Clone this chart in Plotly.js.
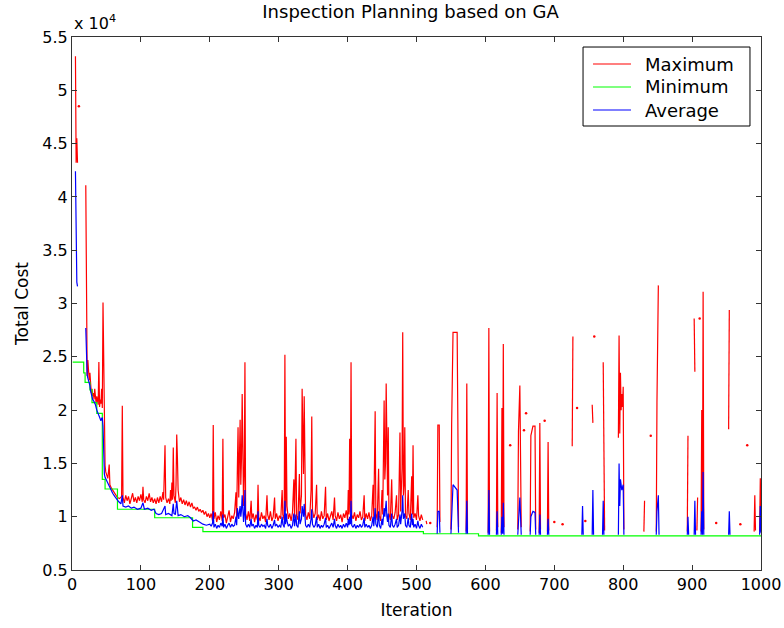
<!DOCTYPE html>
<html>
<head>
<meta charset="utf-8">
<script src="https://cdn.plot.ly/plotly-3.0.1.min.js"></script>
<style>html,body{margin:0;padding:0;background:#fff;}#chart{width:784px;height:628px;}</style>
</head>
<body>
<div id="chart"></div>
<script>
// ---- Data ----
// Maximum cost per iteration (null = not drawn)
const maxIter = [5,6,7,8,null,
20,21,22,23,24,25,26,27,28,29,30,31,32,33,34,35,36,37,38,39,40,41,42,43,44,45,46,47,48,49,50,52,54,55,57,60,63,66,69,72,73,
74,76,78,80,82,84,86,88,90,92,94,96,98,100,102,103,104,106,108,110,112,114,116,118,120,122,124,126,128,130,132,133,135,136,138,140,142,143,144,145,146,147,148,150,151,152,153,154,156,158,160,162,164,166,168,170,172,174,176,178,180,182,184,186,188,190,192,194,196,198,
200,202,204,205,206,208,210,212,214,216,218,219,220,222,224,226,228,230,232,234,236,238,239,240,241,242,243,244,245,246,247,248,249,250,251,252,254,256,258,260,261,263,265,267,269,270,271,273,275,277,279,281,283,284,286,288,290,292,294,295,297,299,
301,303,305,306,308,309,310,311,312,314,316,318,320,322,323,325,326,328,330,331,333,334,335,336,337,338,339,341,343,345,347,348,349,351,353,355,356,358,360,362,364,366,368,369,371,373,375,377,379,381,382,384,386,388,390,392,394,396,398,
400,401,402,403,404,405,406,408,410,412,414,416,418,420,422,424,425,427,429,431,433,435,437,438,440,441,443,445,446,448,450,451,453,454,455,456,457,458,459,460,462,464,465,467,469,471,472,474,476,477,479,480,481,482,483,484,486,488,489,491,493,494,495,496,498,
500,502,503,505,507,509,null,
514,515,null,530,531,533,534,null,550,551,553,559,560,561,null,572,573,574,null,604,605,606,null,616,617,618,null,623,624,625,626,627,null,
647,648,650,652,null,665,666,669,672,673,null,678,679,680,null,690,691,692,null,726,727,null,755,756,null,771,772,773,null,
793,794,795,796,797,798,799,800,801,null,830,831,null,848,849,851,null,893,894,null,903,904,null,907,908,null,913,914,915,916,917,null,953,954,null,
990,991,992,null,998,999,1000];
const maxVal = [53200,43200,45500,43200,null,
41100,24700,23200,24700,23000,22800,23500,22300,21600,22000,21300,21600,21000,22000,21500,20600,21300,20700,20500,24500,20300,21000,20600,22000,20200,30100,22400,15500,14800,14200,14000,13600,14900,13000,12700,12400,12000,11800,11700,11900,20400,
11800,11300,12000,11500,11900,11200,11700,12200,11400,11800,11300,11900,11500,12100,11400,12800,11600,11300,11900,11500,12200,11400,11800,11300,11700,11200,11800,11300,11900,11400,12300,11600,16700,11800,11300,11700,11200,12500,11500,13200,11600,16500,12000,11300,13000,17700,15500,12500,11400,11800,11200,11600,11100,11500,11000,11400,10900,11300,10800,10900,10600,10900,10500,10700,10400,10600,10200,10500,10000,10300,
9900,10300,9600,18600,9800,10400,9500,10100,9700,10500,9600,17300,9900,10200,9400,10000,10600,9500,10100,9800,10400,12300,9900,14500,18400,11800,15800,19100,13000,15500,21500,17200,11000,13800,24500,10300,9700,10500,9600,11500,9800,10300,9500,10200,9700,13000,10000,9600,10400,9800,10100,9500,12000,10200,9700,10500,9600,10000,11800,9800,10300,9600,
10100,9800,12500,10200,9700,25200,10500,17500,11000,9800,10300,9600,10400,13500,9900,17300,10100,9700,14000,10300,12000,22000,15500,14000,21300,12500,10200,9700,10400,9800,12500,19400,10600,9900,10300,13000,9700,10200,9600,10500,9800,10100,12800,9700,10300,9600,10000,10500,9700,11800,10100,9600,10400,9800,10200,9500,10300,9900,10600,
9700,12500,10200,17300,10400,24500,10200,9800,10400,9600,10200,9900,10500,9700,10000,12000,9600,10300,9800,10400,9600,10100,13000,9900,19900,10300,9700,14500,10100,9600,12500,10200,20900,13500,15000,22500,12500,12000,18400,10300,9700,13500,10100,9800,10400,12000,9700,10200,17900,10500,14500,27300,12000,13000,18400,10100,9800,12500,10300,9700,13800,10200,16700,9900,10300,
9700,12000,10100,9600,10200,9700,null,
9600,9300,null,9000,18600,18600,9500,null,8800,18600,27300,27300,19100,9000,null,8600,22500,8800,null,8500,27700,8600,null,8700,21600,9000,null,8500,20200,9500,26200,9000,null,
8800,18000,22300,9000,null,8600,17600,18500,18500,8800,null,8500,18800,8800,null,8600,17000,8700,null,16600,26900,null,20500,18800,null,24500,16700,8700,null,
17400,27000,17800,23500,20000,21500,20300,22200,8800,null,8600,11500,null,8600,20700,31700,null,8600,17600,null,28600,23600,null,8700,11800,null,8600,20000,8700,31100,8800,null,18200,29400,null,
8600,12000,8700,null,8600,13600,9000];
// Isolated single-iteration maximum values (drawn as dots)
const maxDotIter = [10,520,636,656,659,686,700,712,733,745,758,840,911,935,970,980];
const maxDotVal  = [48500,9400,16700,18100,19700,19000,9500,9300,20200,9600,26900,17600,28600,9400,9300,16700];

// Minimum cost (step changes)
const minIter = [1,17,19,26,29,36,44,48,66,120,175,190,510,590,1000];
const minVal  = [24500,23500,22600,21900,20700,19700,13500,12600,10700,9900,9000,8600,8400,8200,8200];

// Average cost per iteration
const avgIter = [5,6,7,8,null,
20,21,22,23,24,25,26,27,28,29,30,32,34,36,38,40,42,43,44,45,46,47,48,50,53,56,59,62,65,68,71,73,74,78,82,86,90,95,100,103,105,110,115,119,122,126,130,135,136,140,145,147,148,150,152,154,158,163,168,172,176,180,185,190,195,
200,202,204,205,206,208,210,212,214,216,218,219,220,222,224,226,228,230,232,234,236,238,239,240,241,242,243,244,245,246,247,248,249,250,251,252,254,256,258,260,261,263,265,267,269,270,271,273,275,277,279,281,283,284,286,288,290,292,294,295,297,299,
301,303,305,306,308,309,310,311,312,314,316,318,320,322,323,325,326,328,330,331,333,334,335,336,337,338,339,341,343,345,347,348,349,351,353,355,356,358,360,362,364,366,368,369,371,373,375,377,379,381,382,384,386,388,390,392,394,396,398,
400,401,402,403,404,405,406,408,410,412,414,416,418,420,422,424,425,427,429,431,433,435,437,438,440,441,443,445,446,448,450,451,453,454,455,456,457,458,459,460,462,464,465,467,469,471,472,474,476,477,479,480,481,482,483,484,486,488,489,491,493,494,495,496,498,
500,502,503,505,507,509,null,
530,531,533,534,null,550,551,553,559,560,561,null,572,573,574,null,604,605,606,null,616,617,618,null,623,624,625,626,627,null,
647,648,650,652,null,665,666,669,672,673,null,678,679,680,null,690,691,692,null,740,741,742,null,755,756,757,null,770,771,772,null,
793,794,795,796,798,800,801,null,848,849,851,852,null,893,894,895,null,903,904,905,null,913,914,915,916,917,null,953,954,955,null,998,999,1000];
const avgVal = [42400,33000,32000,31600,null,
27700,23600,23300,23000,22800,22600,22300,21800,21500,21300,21000,20800,20500,20000,19600,19300,19000,19200,19300,18500,14500,14000,13700,13400,13000,12500,12200,11900,11600,11400,11200,12000,11000,10900,11000,10800,10900,10700,10800,11300,10700,10800,10600,10700,10300,10200,10300,11000,10200,10300,10100,11200,10300,10200,11500,10100,10200,10000,10100,9900,9600,9700,9500,9300,9200,
9300,9100,9400,10500,9000,9300,8900,9200,9000,9400,9100,10200,9000,9300,8900,9200,9400,9000,9300,9100,9200,10000,9200,10800,10300,9800,10500,11000,10000,10600,12000,10500,9500,10200,12500,9300,9000,9300,9000,9800,9100,9300,8900,9200,9000,10500,9200,9000,9300,9100,9200,8900,9800,9200,9000,9300,8900,9200,9700,9100,9300,9000,
9200,9000,10000,9300,9000,11500,9300,10300,9600,9100,9300,8900,9200,10300,9100,10200,9200,9000,10500,9300,9800,11000,10200,10000,11200,9800,9200,9000,9300,9000,9800,10700,9300,9000,9200,10000,9000,9300,8900,9200,9000,9300,9900,9000,9200,8900,9200,9400,9000,9800,9200,8900,9300,9000,9200,8900,9300,9000,9400,
9000,9800,9200,10000,9300,11500,9200,9000,9300,8900,9200,9000,9300,9000,9200,9900,9000,9300,9000,9200,8900,9200,10000,9100,10800,9300,9000,10500,9200,8900,9800,9200,10800,10000,10500,11500,10000,9500,10300,9200,9000,10300,9200,9000,9300,9800,9000,9200,10200,9300,10500,12000,9800,10200,10300,9200,9000,9900,9200,9000,10300,9200,9800,9000,9300,
8900,9600,9200,8900,9300,9000,null,
8400,10500,10500,8500,null,8400,10500,13000,12500,10300,8500,null,8400,11500,8400,null,8300,12500,8300,null,8300,10500,8300,null,8300,10000,8400,11300,8300,null,
8300,10000,11800,8300,null,8300,10000,10500,10400,8300,null,8300,10200,8300,null,8300,9800,8300,null,8300,11000,8300,null,8300,12500,8300,null,8300,11500,8300,null,
8300,15000,11000,13500,12500,13000,8300,null,8300,10500,12000,8300,null,8300,10000,8300,null,8300,11500,8300,null,8300,10500,8300,14200,8300,null,8300,10500,8300,null,8300,11000,8500];

// Series names and colours (legend)
const seriesNames  = ['Maximum', 'Minimum', 'Average'];
const seriesColors = ['#ff0000', '#00ff00', '#0000ff'];

// Axis ticks
const xTicks = [0,100,200,300,400,500,600,700,800,900,1000];
const yTickVals = [5000,10000,15000,20000,25000,30000,35000,40000,45000,50000,55000];
const yTickText = ['0.5','1','1.5','2','2.5','3','3.5','4','4.5','5','5.5'];

const FONT = 'DejaVu Sans, Liberation Sans, Arial, sans-serif';
const LW = 1.2;

const traces = [
  {x: maxIter, y: maxVal, name: seriesNames[0], mode: 'lines', connectgaps: false,
   line: {color: seriesColors[0], width: LW}},
  {x: minIter, y: minVal, name: seriesNames[1], mode: 'lines',
   line: {color: seriesColors[1], width: LW, shape: 'hv'}},
  {x: avgIter, y: avgVal, name: seriesNames[2], mode: 'lines', connectgaps: false,
   line: {color: seriesColors[2], width: LW}},
  {x: maxDotIter, y: maxDotVal, mode: 'markers', showlegend: false, hoverinfo: 'skip',
   marker: {color: seriesColors[0], size: 2.5}}
];

// Legend box drawn MATLAB-style (paper coordinates)
const LEG = {x0: 0.7417, x1: 0.9840, y0: 0.8330, y1: 0.9812, lx0: 0.7562, lx1: 0.8113, tx: 0.8287,
             rows: [0.9493, 0.9062, 0.8630]};
const shapes = [
  {type: 'rect', xref: 'paper', yref: 'paper', x0: LEG.x0, x1: LEG.x1, y0: LEG.y0, y1: LEG.y1,
   line: {color: '#000000', width: 1}, fillcolor: '#ffffff', layer: 'above'}
];
const annotations = [
  {text: 'x 10<sup>4</sup>', xref: 'paper', yref: 'paper', x: 0, y: 1, xanchor: 'left', yanchor: 'bottom',
   yshift: 2, showarrow: false, font: {family: FONT, size: 16, color: '#000'}}
];
seriesNames.forEach((nm, i) => {
  shapes.push({type: 'line', xref: 'paper', yref: 'paper', x0: LEG.lx0, x1: LEG.lx1, y0: LEG.rows[i], y1: LEG.rows[i],
               line: {color: seriesColors[i], width: LW}, layer: 'above'});
  annotations.push({text: nm, xref: 'paper', yref: 'paper', x: LEG.tx, y: LEG.rows[i], xanchor: 'left', yanchor: 'middle',
                    showarrow: false, font: {family: FONT, size: 18, color: '#000'}});
});

const axisCommon = {
  showgrid: false, zeroline: false, showline: true, linecolor: '#333333', linewidth: 1,
  mirror: 'ticks', ticks: 'inside', ticklen: 5, tickcolor: '#333333', tickwidth: 1,
  tickfont: {family: FONT, size: 16, color: '#000'}
};

const layout = {
  width: 784, height: 628,
  margin: {l: 72, r: 23, t: 37, b: 58},
  paper_bgcolor: '#ffffff', plot_bgcolor: '#ffffff',
  font: {family: FONT, color: '#000'},
  title: {text: 'Inspection Planning based on GA', font: {family: FONT, size: 18, color: '#000'},
          xref: 'paper', x: 0.4913, xanchor: 'center', yref: 'container', y: 0.981, yanchor: 'middle'},
  xaxis: Object.assign({}, axisCommon, {
    range: [0, 1000], tickvals: xTicks, ticktext: xTicks.map(String),
    title: {text: 'Iteration', font: {family: FONT, size: 17, color: '#000'}, standoff: 10}
  }),
  yaxis: Object.assign({}, axisCommon, {
    range: [5000, 55000], tickvals: yTickVals, ticktext: yTickText,
    title: {text: 'Total Cost', font: {family: FONT, size: 17, color: '#000'}, standoff: 9}
  }),
  showlegend: false,
  shapes: shapes,
  annotations: annotations
};

Plotly.newPlot('chart', traces, layout, {displayModeBar: false, staticPlot: true});
</script>
</body>
</html>
